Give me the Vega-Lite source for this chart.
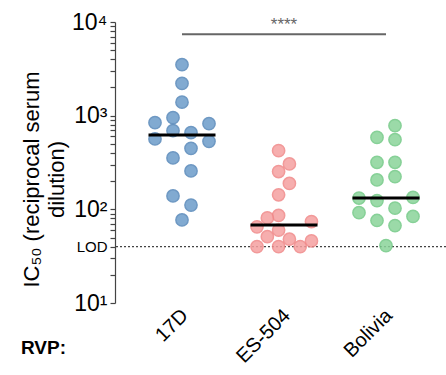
{
  "$schema": "https://vega.github.io/schema/vega-lite/v6.json",
  "autosize": {"type": "none"},
  "padding": {"left": 115, "top": 22, "right": 0, "bottom": 72},
  "width": 331,
  "height": 281,
  "config": {"view": {"stroke": null}, "font": "Liberation Sans", "axis": {"ticks": true}},
  "datasets": {
    "pts": [
      {"virus": "17D", "ic50": 3500, "swarm": 0},
      {"virus": "17D", "ic50": 2210, "swarm": 0},
      {"virus": "17D", "ic50": 1394, "swarm": 0},
      {"virus": "17D", "ic50": 952, "swarm": -1},
      {"virus": "17D", "ic50": 842, "swarm": -3},
      {"virus": "17D", "ic50": 822, "swarm": 3},
      {"virus": "17D", "ic50": 692, "swarm": -1},
      {"virus": "17D", "ic50": 659, "swarm": 1},
      {"virus": "17D", "ic50": 564, "swarm": -3},
      {"virus": "17D", "ic50": 532, "swarm": 3},
      {"virus": "17D", "ic50": 448, "swarm": 1},
      {"virus": "17D", "ic50": 354, "swarm": -1},
      {"virus": "17D", "ic50": 257, "swarm": 1},
      {"virus": "17D", "ic50": 139, "swarm": -1},
      {"virus": "17D", "ic50": 111, "swarm": 1},
      {"virus": "17D", "ic50": 77, "swarm": 0},
      {"virus": "ES-504", "ic50": 423, "swarm": -0.6},
      {"virus": "ES-504", "ic50": 305, "swarm": 0.6},
      {"virus": "ES-504", "ic50": 253, "swarm": -0.6},
      {"virus": "ES-504", "ic50": 189, "swarm": 0.6},
      {"virus": "ES-504", "ic50": 143, "swarm": -0.6},
      {"virus": "ES-504", "ic50": 86, "swarm": -0.6},
      {"virus": "ES-504", "ic50": 81, "swarm": -1.85},
      {"virus": "ES-504", "ic50": 74, "swarm": 3.05},
      {"virus": "ES-504", "ic50": 65, "swarm": -3},
      {"virus": "ES-504", "ic50": 60, "swarm": -0.6},
      {"virus": "ES-504", "ic50": 51, "swarm": -1.85},
      {"virus": "ES-504", "ic50": 48, "swarm": 0.6},
      {"virus": "ES-504", "ic50": 46, "swarm": 3.05},
      {"virus": "ES-504", "ic50": 40, "swarm": -3},
      {"virus": "ES-504", "ic50": 40, "swarm": -0.6},
      {"virus": "ES-504", "ic50": 40, "swarm": 1.8},
      {"virus": "Bolivia", "ic50": 782, "swarm": 1},
      {"virus": "Bolivia", "ic50": 586, "swarm": -1},
      {"virus": "Bolivia", "ic50": 554, "swarm": 1},
      {"virus": "Bolivia", "ic50": 318, "swarm": -1},
      {"virus": "Bolivia", "ic50": 318, "swarm": 1},
      {"virus": "Bolivia", "ic50": 223, "swarm": 1},
      {"virus": "Bolivia", "ic50": 206, "swarm": -1},
      {"virus": "Bolivia", "ic50": 134, "swarm": 3},
      {"virus": "Bolivia", "ic50": 132, "swarm": -3},
      {"virus": "Bolivia", "ic50": 124, "swarm": -1},
      {"virus": "Bolivia", "ic50": 103, "swarm": 1},
      {"virus": "Bolivia", "ic50": 92, "swarm": -3},
      {"virus": "Bolivia", "ic50": 84, "swarm": 3},
      {"virus": "Bolivia", "ic50": 76, "swarm": -1},
      {"virus": "Bolivia", "ic50": 67, "swarm": 1},
      {"virus": "Bolivia", "ic50": 41, "swarm": 0}
    ],
    "medians": [
      {"virus": "17D", "ic50": 620},
      {"virus": "ES-504", "ic50": 68},
      {"virus": "Bolivia", "ic50": 132}
    ],
    "bracket": [
      {"from": "17D", "to": "Bolivia", "mid": "ES-504", "y": 7400, "ty": 9300, "label": "****"}
    ],
    "lod": [
      {"lod": 40}
    ]
  },
  "layer": [
    {
      "data": {"name": "lod"},
      "mark": {"type": "rule", "strokeDash": [2, 2], "color": "#444", "strokeWidth": 1.2},
      "encoding": {"y": {"field": "lod", "type": "quantitative"}}
    },
    {
      "data": {"name": "pts"},
      "mark": {"type": "circle", "size": 150, "opacity": 0.85, "strokeWidth": 1.5},
      "encoding": {
        "x": {
          "field": "virus", "type": "nominal", "sort": ["17D", "ES-504", "Bolivia"],
          "scale": {"domain": ["17D", "ES-504", "Bolivia"], "range": [16, 322], "paddingInner": 0, "paddingOuter": 0},
          "axis": {
            "title": "RVP:", "titleFontSize": 19, "titleFontWeight": "bold", "titleAngle": 0,
            "titleAlign": "center", "titleBaseline": "alphabetic", "titleX": -72, "titleY": 50,
            "labelAngle": -45, "labelFontSize": 20, "labelColor": "black", "labelPadding": 2,
            "labelOffset": -4,
            "domain": false, "ticks": false, "grid": false
          }
        },
        "xOffset": {"field": "swarm", "type": "quantitative", "scale": {"domain": [-3, 3], "range": [24, 78]}},
        "y": {
          "field": "ic50", "type": "quantitative",
          "scale": {"type": "log", "domain": [10, 10000], "nice": false},
          "axis": {
            "values": [10, 20, 30, 40, 50, 60, 70, 80, 90, 100, 200, 300, 400, 500, 600, 700, 800, 900, 1000, 2000, 3000, 4000, 5000, 6000, 7000, 8000, 9000, 10000],
            "labelExpr": "datum.value==10?'10¹':datum.value==100?'10²':datum.value==1000?'10³':datum.value==10000?'10⁴':datum.value==40?'LOD':''",
            "labelFontSize": {"condition": {"test": "datum.value==40", "value": 15}, "value": 23},
            "ticks": true, "tickSize": 5, "tickWidth": 1.2, "tickColor": "#444", "tickOpacity": 1,
            "labelOverlap": false, "labelBound": false, "labelFlush": false,
            "labelPadding": 3, "labelColor": "black",
            "domainColor": "#444", "domainWidth": 1.2, "grid": false,
            "title": ["IC₅₀ (reciprocal serum", "dilution)"],
            "titleFontSize": 22, "titleFontWeight": "normal", "titleAngle": -90,
            "titleAlign": "center", "titleBaseline": "top", "titleLineHeight": 25,
            "titleX": -94, "titleY": 157
          }
        },
        "fill": {
          "field": "virus", "type": "nominal",
          "scale": {"domain": ["17D", "ES-504", "Bolivia"], "range": ["#6c9cc9", "#f5a0a0", "#8ad49a"]},
          "legend": null
        },
        "stroke": {
          "field": "virus", "type": "nominal",
          "scale": {"domain": ["17D", "ES-504", "Bolivia"], "range": ["#5587b9", "#f08888", "#72c985"]},
          "legend": null
        }
      }
    },
    {
      "data": {"name": "medians"},
      "mark": {"type": "tick", "size": 67, "thickness": 3, "color": "black", "opacity": 1},
      "encoding": {
        "x": {"field": "virus", "type": "nominal"},
        "y": {"field": "ic50", "type": "quantitative"}
      }
    },
    {
      "data": {"name": "bracket"},
      "mark": {"type": "rule", "color": "#666", "strokeWidth": 2},
      "encoding": {
        "x": {"field": "from", "type": "nominal"},
        "x2": {"field": "to"},
        "y": {"field": "y", "type": "quantitative"}
      }
    },
    {
      "data": {"name": "bracket"},
      "mark": {"type": "text", "color": "#666", "fontSize": 17, "baseline": "middle", "align": "center"},
      "encoding": {
        "x": {"field": "mid", "type": "nominal"},
        "y": {"field": "ty", "type": "quantitative"},
        "text": {"field": "label"}
      }
    }
  ]
}
